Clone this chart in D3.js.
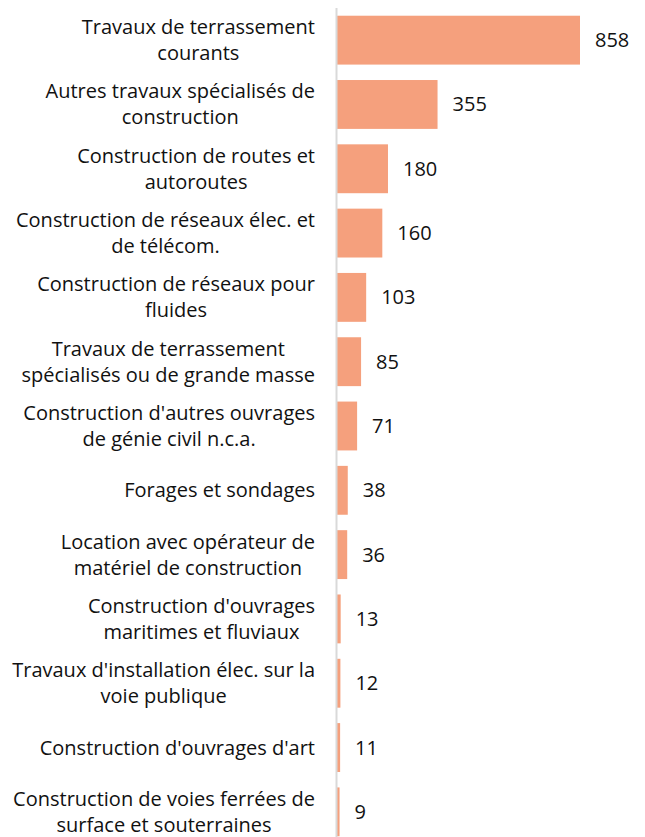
<!DOCTYPE html>
<html>
<head>
<meta charset="utf-8">
<script src="https://cdn.jsdelivr.net/npm/d3@7"></script>
<style>
  body { margin: 0; background: #fff; }
  svg { display: block; font-family: "Open Sans", sans-serif; }
</style>
</head>
<body>
<svg id="chart" width="645" height="837"></svg>
<script>
// categories, one line break where the source wraps
const categories = [
  'Travaux de terrassement\ncourants',
  'Autres travaux spécialisés de\nconstruction',
  'Construction de routes et\nautoroutes',
  'Construction de réseaux élec. et\nde télécom.',
  'Construction de réseaux pour\nfluides',
  'Travaux de terrassement\nspécialisés ou de grande masse',
  "Construction d'autres ouvrages\nde génie civil n.c.a.",
  'Forages et sondages',
  'Location avec opérateur de\nmatériel de construction',
  "Construction d'ouvrages\nmaritimes et fluviaux",
  "Travaux d'installation élec. sur la\nvoie publique",
  "Construction d'ouvrages d'art",
  'Construction de voies ferrées de\nsurface et souterraines'
];
const values = [858, 355, 180, 160, 103, 85, 71, 38, 36, 13, 12, 11, 9];

const width = 645, height = 837;
const axisX = 336.5;
const fontSize = 20;
const lineGap = 26;

const svg = d3.select('#chart');

const x = d3.scaleLinear()
  .domain([0, 858])
  .range([axisX + 0.5, 580]);

const y = d3.scaleBand()
  .domain(categories)
  .range([8, 844])
  .paddingInner(0.24)
  .paddingOuter(0.12);

// bars
svg.append('g')
  .selectAll('rect')
  .data(values)
  .join('rect')
  .attr('x', x(0))
  .attr('y', (d, i) => y(categories[i]))
  .attr('width', d => x(d) - x(0))
  .attr('height', y.bandwidth())
  .attr('fill', '#f5a07d');

// value labels
svg.append('g')
  .selectAll('text')
  .data(values)
  .join('text')
  .attr('x', d => x(d) + 15)
  .attr('y', (d, i) => y(categories[i]) + y.bandwidth() / 2)
  .attr('dy', '0.35em')
  .attr('font-size', fontSize)
  .attr('fill', '#111')
  .text(d => d);

// axis: just the vertical line, labels drawn below
const yAxis = d3.axisLeft(y).tickSize(0).tickFormat('');
const ax = svg.append('g')
  .attr('transform', 'translate(' + axisX + ',0)')
  .call(yAxis);
ax.select('.domain')
  .attr('d', 'M0,8V' + height)
  .attr('stroke', '#d9d9d9')
  .attr('stroke-width', 2);

// category labels: lines centred on each other, block right aligned
const labelRight = 315;
categories.forEach(function(c) {
  const lines = c.split('\n');
  const g = svg.append('g');
  const cy = y(c) + y.bandwidth() / 2;
  const texts = lines.map(function(l, j) {
    return g.append('text')
      .attr('y', cy + (j - (lines.length - 1) / 2) * lineGap)
      .attr('dy', '0.35em')
      .attr('font-size', fontSize)
      .attr('fill', '#111')
      .attr('text-anchor', 'middle')
      .text(l);
  });
  const w = d3.max(texts, t => t.node().getComputedTextLength());
  texts.forEach(t => t.attr('x', labelRight - w / 2));
});
</script>
</body>
</html>
